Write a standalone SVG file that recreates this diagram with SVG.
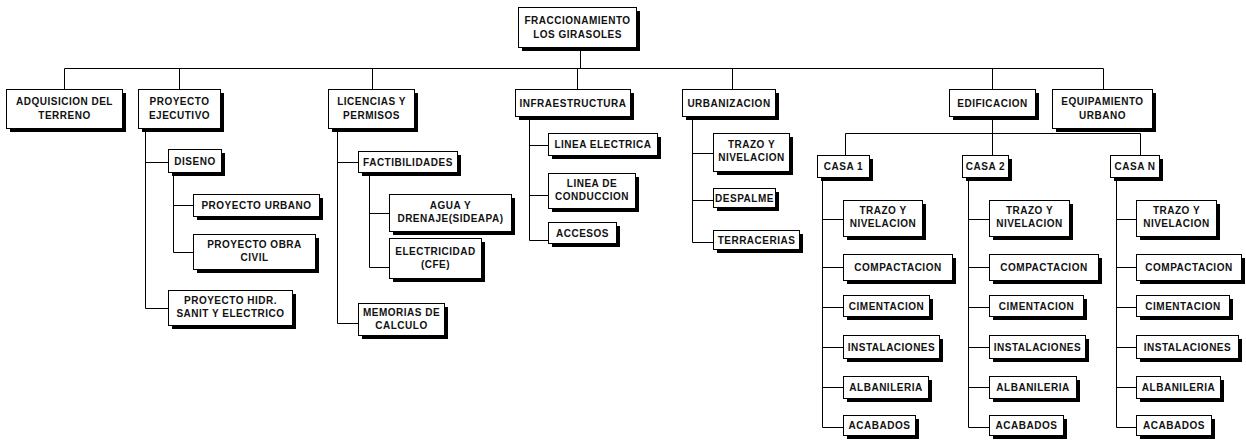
<svg xmlns="http://www.w3.org/2000/svg" width="1246" height="444" viewBox="0 0 1246 444">
  <style>
    .sh { fill: #000; }
    .bx { fill: #fff; stroke: #000; stroke-width: 1; }
    .t { font-family: "Liberation Sans", Arial, sans-serif; font-weight: bold; font-size: 10px; fill: #111; text-anchor: middle; letter-spacing: 0.5px; }
    .ln { fill: none; stroke: #000; stroke-width: 1; }
  </style>
  <!-- each box: black drop shadow offset 4px right/down, then white framed panel -->

  <!-- connectors -->
  <g id="connectors" class="ln">
    <path d="M580.5 47V68.5"/>
    <path d="M64.5 68.5H1103.5"/>
    <path d="M64.5 68.5V89M179.5 68.5V89M372.5 68.5V89M577.5 68.5V89M732.5 68.5V89M992.5 68.5V89M1103.5 68.5V89"/>
    <!-- proyecto ejecutivo -->
    <path d="M145.5 128V308.5H168M145.5 162.5H168"/>
    <path d="M173.5 172V252.5H193M173.5 205.5H193"/>
    <!-- licencias y permisos -->
    <path d="M337.5 128V323.5H358M337.5 162.5H358"/>
    <path d="M369.5 172V267.5H389M369.5 213.5H389"/>
    <!-- infraestructura -->
    <path d="M529.5 116V240.5H548M529.5 145.5H548M529.5 195.5H548"/>
    <!-- urbanizacion -->
    <path d="M692.5 116V242.5H713M692.5 153.5H713M692.5 200.5H713"/>
    <!-- edificacion -->
    <path d="M992.5 116V133.5"/>
    <path d="M845.5 133.5H1140.5"/>
    <path d="M845.5 133.5V155M992.5 133.5V155M1140.5 133.5V155"/>
    <path d="M822.5 177V427.5H843M822.5 219.5H843M822.5 267.5H843M822.5 307.5H843M822.5 347.5H843M822.5 387.5H843"/>
    <path d="M968.5 177V427.5H989M968.5 219.5H989M968.5 267.5H989M968.5 307.5H989M968.5 347.5H989M968.5 387.5H989"/>
    <path d="M1116.5 177V427.5H1136M1116.5 219.5H1136M1116.5 267.5H1136M1116.5 307.5H1136M1116.5 347.5H1136M1116.5 387.5H1136"/>
  </g>

  <g id="root">
    <rect class="sh" x="522" y="11" width="118" height="40"/>
    <rect class="bx" x="518.5" y="7.5" width="118" height="40"/>
    <text class="t" x="577.5" y="24">FRACCIONAMIENTO</text>
    <text class="t" x="577.5" y="38">LOS GIRASOLES</text>
  </g>

  <g id="adquisicion">
    <rect class="sh" x="10" y="93" width="116" height="39"/>
    <rect class="bx" x="6.5" y="89.5" width="116" height="39"/>
    <text class="t" x="64.5" y="105">ADQUISICION DEL</text>
    <text class="t" x="64.5" y="119">TERRENO</text>
  </g>
  <g id="proyecto-ejecutivo">
    <rect class="sh" x="142" y="93" width="82" height="39"/>
    <rect class="bx" x="138.5" y="89.5" width="82" height="39"/>
    <text class="t" x="179.5" y="105">PROYECTO</text>
    <text class="t" x="179.5" y="119">EJECUTIVO</text>
  </g>
  <g id="licencias">
    <rect class="sh" x="332" y="93" width="86" height="39"/>
    <rect class="bx" x="328.5" y="89.5" width="86" height="39"/>
    <text class="t" x="371.5" y="105">LICENCIAS Y</text>
    <text class="t" x="371.5" y="119">PERMISOS</text>
  </g>
  <g id="infraestructura">
    <rect class="sh" x="519" y="93" width="115" height="27"/>
    <rect class="bx" x="515.5" y="89.5" width="115" height="27"/>
    <text class="t" x="573" y="106.5">INFRAESTRUCTURA</text>
  </g>
  <g id="urbanizacion">
    <rect class="sh" x="686" y="93" width="93" height="27"/>
    <rect class="bx" x="682.5" y="89.5" width="93" height="27"/>
    <text class="t" x="729" y="106.5">URBANIZACION</text>
  </g>
  <g id="edificacion">
    <rect class="sh" x="953" y="93" width="86" height="27"/>
    <rect class="bx" x="949.5" y="89.5" width="86" height="27"/>
    <text class="t" x="992.5" y="106.5">EDIFICACION</text>
  </g>
  <g id="equipamiento">
    <rect class="sh" x="1056" y="93" width="100" height="39"/>
    <rect class="bx" x="1052.5" y="89.5" width="100" height="39"/>
    <text class="t" x="1102.5" y="105">EQUIPAMIENTO</text>
    <text class="t" x="1102.5" y="119">URBANO</text>
  </g>

  <!-- proyecto ejecutivo branch -->
  <g id="diseno">
    <rect class="sh" x="172" y="153" width="53" height="23"/>
    <rect class="bx" x="168.5" y="149.5" width="53" height="23"/>
    <text class="t" x="195" y="164.5">DISENO</text>
  </g>
  <g id="proyecto-urbano">
    <rect class="sh" x="197" y="198" width="126" height="22"/>
    <rect class="bx" x="193.5" y="194.5" width="126" height="22"/>
    <text class="t" x="256.5" y="209">PROYECTO URBANO</text>
  </g>
  <g id="proyecto-obra-civil">
    <rect class="sh" x="197" y="238" width="122" height="35"/>
    <rect class="bx" x="193.5" y="234.5" width="122" height="35"/>
    <text class="t" x="254.5" y="248">PROYECTO OBRA</text>
    <text class="t" x="254.5" y="261">CIVIL</text>
  </g>
  <g id="proyecto-hidr">
    <rect class="sh" x="172" y="294" width="124" height="35"/>
    <rect class="bx" x="168.5" y="290.5" width="124" height="35"/>
    <text class="t" x="230.5" y="304">PROYECTO HIDR.</text>
    <text class="t" x="230.5" y="317">SANIT Y ELECTRICO</text>
  </g>

  <!-- licencias branch -->
  <g id="factibilidades">
    <rect class="sh" x="362" y="155" width="99" height="21"/>
    <rect class="bx" x="358.5" y="151.5" width="99" height="21"/>
    <text class="t" x="408" y="165.5">FACTIBILIDADES</text>
  </g>
  <g id="agua-drenaje">
    <rect class="sh" x="393" y="198" width="122" height="37"/>
    <rect class="bx" x="389.5" y="194.5" width="122" height="37"/>
    <text class="t" x="450.5" y="209">AGUA Y</text>
    <text class="t" x="450.5" y="222">DRENAJE(SIDEAPA)</text>
  </g>
  <g id="electricidad">
    <rect class="sh" x="393" y="242" width="92" height="40"/>
    <rect class="bx" x="389.5" y="238.5" width="92" height="40"/>
    <text class="t" x="435.5" y="255">ELECTRICIDAD</text>
    <text class="t" x="435.5" y="268">(CFE)</text>
  </g>
  <g id="memorias">
    <rect class="sh" x="362" y="307" width="86" height="32"/>
    <rect class="bx" x="358.5" y="303.5" width="86" height="32"/>
    <text class="t" x="401.5" y="316">MEMORIAS DE</text>
    <text class="t" x="401.5" y="329">CALCULO</text>
  </g>

  <!-- infraestructura branch -->
  <g id="linea-electrica">
    <rect class="sh" x="552" y="137" width="109" height="22"/>
    <rect class="bx" x="548.5" y="133.5" width="109" height="22"/>
    <text class="t" x="603" y="148">LINEA ELECTRICA</text>
  </g>
  <g id="linea-conduccion">
    <rect class="sh" x="552" y="177" width="87" height="35"/>
    <rect class="bx" x="548.5" y="173.5" width="87" height="35"/>
    <text class="t" x="592" y="187">LINEA DE</text>
    <text class="t" x="592" y="200">CONDUCCION</text>
  </g>
  <g id="accesos">
    <rect class="sh" x="552" y="226" width="68" height="21"/>
    <rect class="bx" x="548.5" y="222.5" width="68" height="21"/>
    <text class="t" x="582.5" y="236.5">ACCESOS</text>
  </g>

  <!-- urbanizacion branch -->
  <g id="urb-trazo">
    <rect class="sh" x="717" y="137" width="76" height="38"/>
    <rect class="bx" x="713.5" y="133.5" width="76" height="38"/>
    <text class="t" x="751.5" y="148">TRAZO Y</text>
    <text class="t" x="751.5" y="161">NIVELACION</text>
  </g>
  <g id="despalme">
    <rect class="sh" x="717" y="192" width="62" height="19"/>
    <rect class="bx" x="713.5" y="188.5" width="62" height="19"/>
    <text class="t" x="744.5" y="201.5">DESPALME</text>
  </g>
  <g id="terracerias">
    <rect class="sh" x="717" y="234" width="86" height="19"/>
    <rect class="bx" x="713.5" y="230.5" width="86" height="19"/>
    <text class="t" x="756.5" y="243.5">TERRACERIAS</text>
  </g>

  <!-- casas -->
  <g id="casa-1">
    <rect class="sh" x="821" y="159" width="52" height="22"/>
    <rect class="bx" x="817.5" y="155.5" width="52" height="22"/>
    <text class="t" x="843.5" y="170">CASA 1</text>
  </g>
  <g id="casa-2">
    <rect class="sh" x="966" y="159" width="46" height="22"/>
    <rect class="bx" x="962.5" y="155.5" width="46" height="22"/>
    <text class="t" x="985.5" y="170">CASA 2</text>
  </g>
  <g id="casa-n">
    <rect class="sh" x="1114" y="159" width="49" height="22"/>
    <rect class="bx" x="1110.5" y="155.5" width="49" height="22"/>
    <text class="t" x="1135" y="170">CASA N</text>
  </g>

  <!-- casa 1 tasks -->
  <g id="c1-trazo">
    <rect class="sh" x="847" y="204" width="79" height="36"/>
    <rect class="bx" x="843.5" y="200.5" width="79" height="36"/>
    <text class="t" x="883" y="214">TRAZO Y</text>
    <text class="t" x="883" y="227">NIVELACION</text>
  </g>
  <g id="c1-compactacion">
    <rect class="sh" x="847" y="258" width="109" height="26"/>
    <rect class="bx" x="843.5" y="254.5" width="109" height="26"/>
    <text class="t" x="898" y="271">COMPACTACION</text>
  </g>
  <g id="c1-cimentacion">
    <rect class="sh" x="847" y="299" width="86" height="21"/>
    <rect class="bx" x="843.5" y="295.5" width="86" height="21"/>
    <text class="t" x="886.5" y="309.5">CIMENTACION</text>
  </g>
  <g id="c1-instalaciones">
    <rect class="sh" x="847" y="339" width="96" height="23"/>
    <rect class="bx" x="843.5" y="335.5" width="96" height="23"/>
    <text class="t" x="891.5" y="350.5">INSTALACIONES</text>
  </g>
  <g id="c1-albanileria">
    <rect class="sh" x="847" y="380" width="85" height="22"/>
    <rect class="bx" x="843.5" y="376.5" width="85" height="22"/>
    <text class="t" x="886" y="391">ALBANILERIA</text>
  </g>
  <g id="c1-acabados">
    <rect class="sh" x="847" y="419" width="72" height="20"/>
    <rect class="bx" x="843.5" y="415.5" width="72" height="20"/>
    <text class="t" x="879.5" y="429">ACABADOS</text>
  </g>

  <!-- casa 2 tasks -->
  <g id="c2-trazo">
    <rect class="sh" x="993" y="204" width="80" height="36"/>
    <rect class="bx" x="989.5" y="200.5" width="80" height="36"/>
    <text class="t" x="1029.5" y="214">TRAZO Y</text>
    <text class="t" x="1029.5" y="227">NIVELACION</text>
  </g>
  <g id="c2-compactacion">
    <rect class="sh" x="993" y="258" width="109" height="26"/>
    <rect class="bx" x="989.5" y="254.5" width="109" height="26"/>
    <text class="t" x="1044" y="271">COMPACTACION</text>
  </g>
  <g id="c2-cimentacion">
    <rect class="sh" x="993" y="299" width="94" height="21"/>
    <rect class="bx" x="989.5" y="295.5" width="94" height="21"/>
    <text class="t" x="1036.5" y="309.5">CIMENTACION</text>
  </g>
  <g id="c2-instalaciones">
    <rect class="sh" x="993" y="339" width="96" height="23"/>
    <rect class="bx" x="989.5" y="335.5" width="96" height="23"/>
    <text class="t" x="1037.5" y="350.5">INSTALACIONES</text>
  </g>
  <g id="c2-albanileria">
    <rect class="sh" x="993" y="380" width="87" height="22"/>
    <rect class="bx" x="989.5" y="376.5" width="87" height="22"/>
    <text class="t" x="1033" y="391">ALBANILERIA</text>
  </g>
  <g id="c2-acabados">
    <rect class="sh" x="993" y="419" width="74" height="20"/>
    <rect class="bx" x="989.5" y="415.5" width="74" height="20"/>
    <text class="t" x="1026.5" y="429">ACABADOS</text>
  </g>

  <!-- casa n tasks -->
  <g id="cn-trazo">
    <rect class="sh" x="1140" y="204" width="80" height="36"/>
    <rect class="bx" x="1136.5" y="200.5" width="80" height="36"/>
    <text class="t" x="1176.5" y="214">TRAZO Y</text>
    <text class="t" x="1176.5" y="227">NIVELACION</text>
  </g>
  <g id="cn-compactacion">
    <rect class="sh" x="1140" y="258" width="105" height="26"/>
    <rect class="bx" x="1136.5" y="254.5" width="105" height="26"/>
    <text class="t" x="1189" y="271">COMPACTACION</text>
  </g>
  <g id="cn-cimentacion">
    <rect class="sh" x="1140" y="299" width="93" height="21"/>
    <rect class="bx" x="1136.5" y="295.5" width="93" height="21"/>
    <text class="t" x="1183" y="309.5">CIMENTACION</text>
  </g>
  <g id="cn-instalaciones">
    <rect class="sh" x="1140" y="339" width="102" height="23"/>
    <rect class="bx" x="1136.5" y="335.5" width="102" height="23"/>
    <text class="t" x="1187.5" y="350.5">INSTALACIONES</text>
  </g>
  <g id="cn-albanileria">
    <rect class="sh" x="1140" y="380" width="84" height="22"/>
    <rect class="bx" x="1136.5" y="376.5" width="84" height="22"/>
    <text class="t" x="1178.5" y="391">ALBANILERIA</text>
  </g>
  <g id="cn-acabados">
    <rect class="sh" x="1140" y="419" width="75" height="20"/>
    <rect class="bx" x="1136.5" y="415.5" width="75" height="20"/>
    <text class="t" x="1174" y="429">ACABADOS</text>
  </g>
</svg>
